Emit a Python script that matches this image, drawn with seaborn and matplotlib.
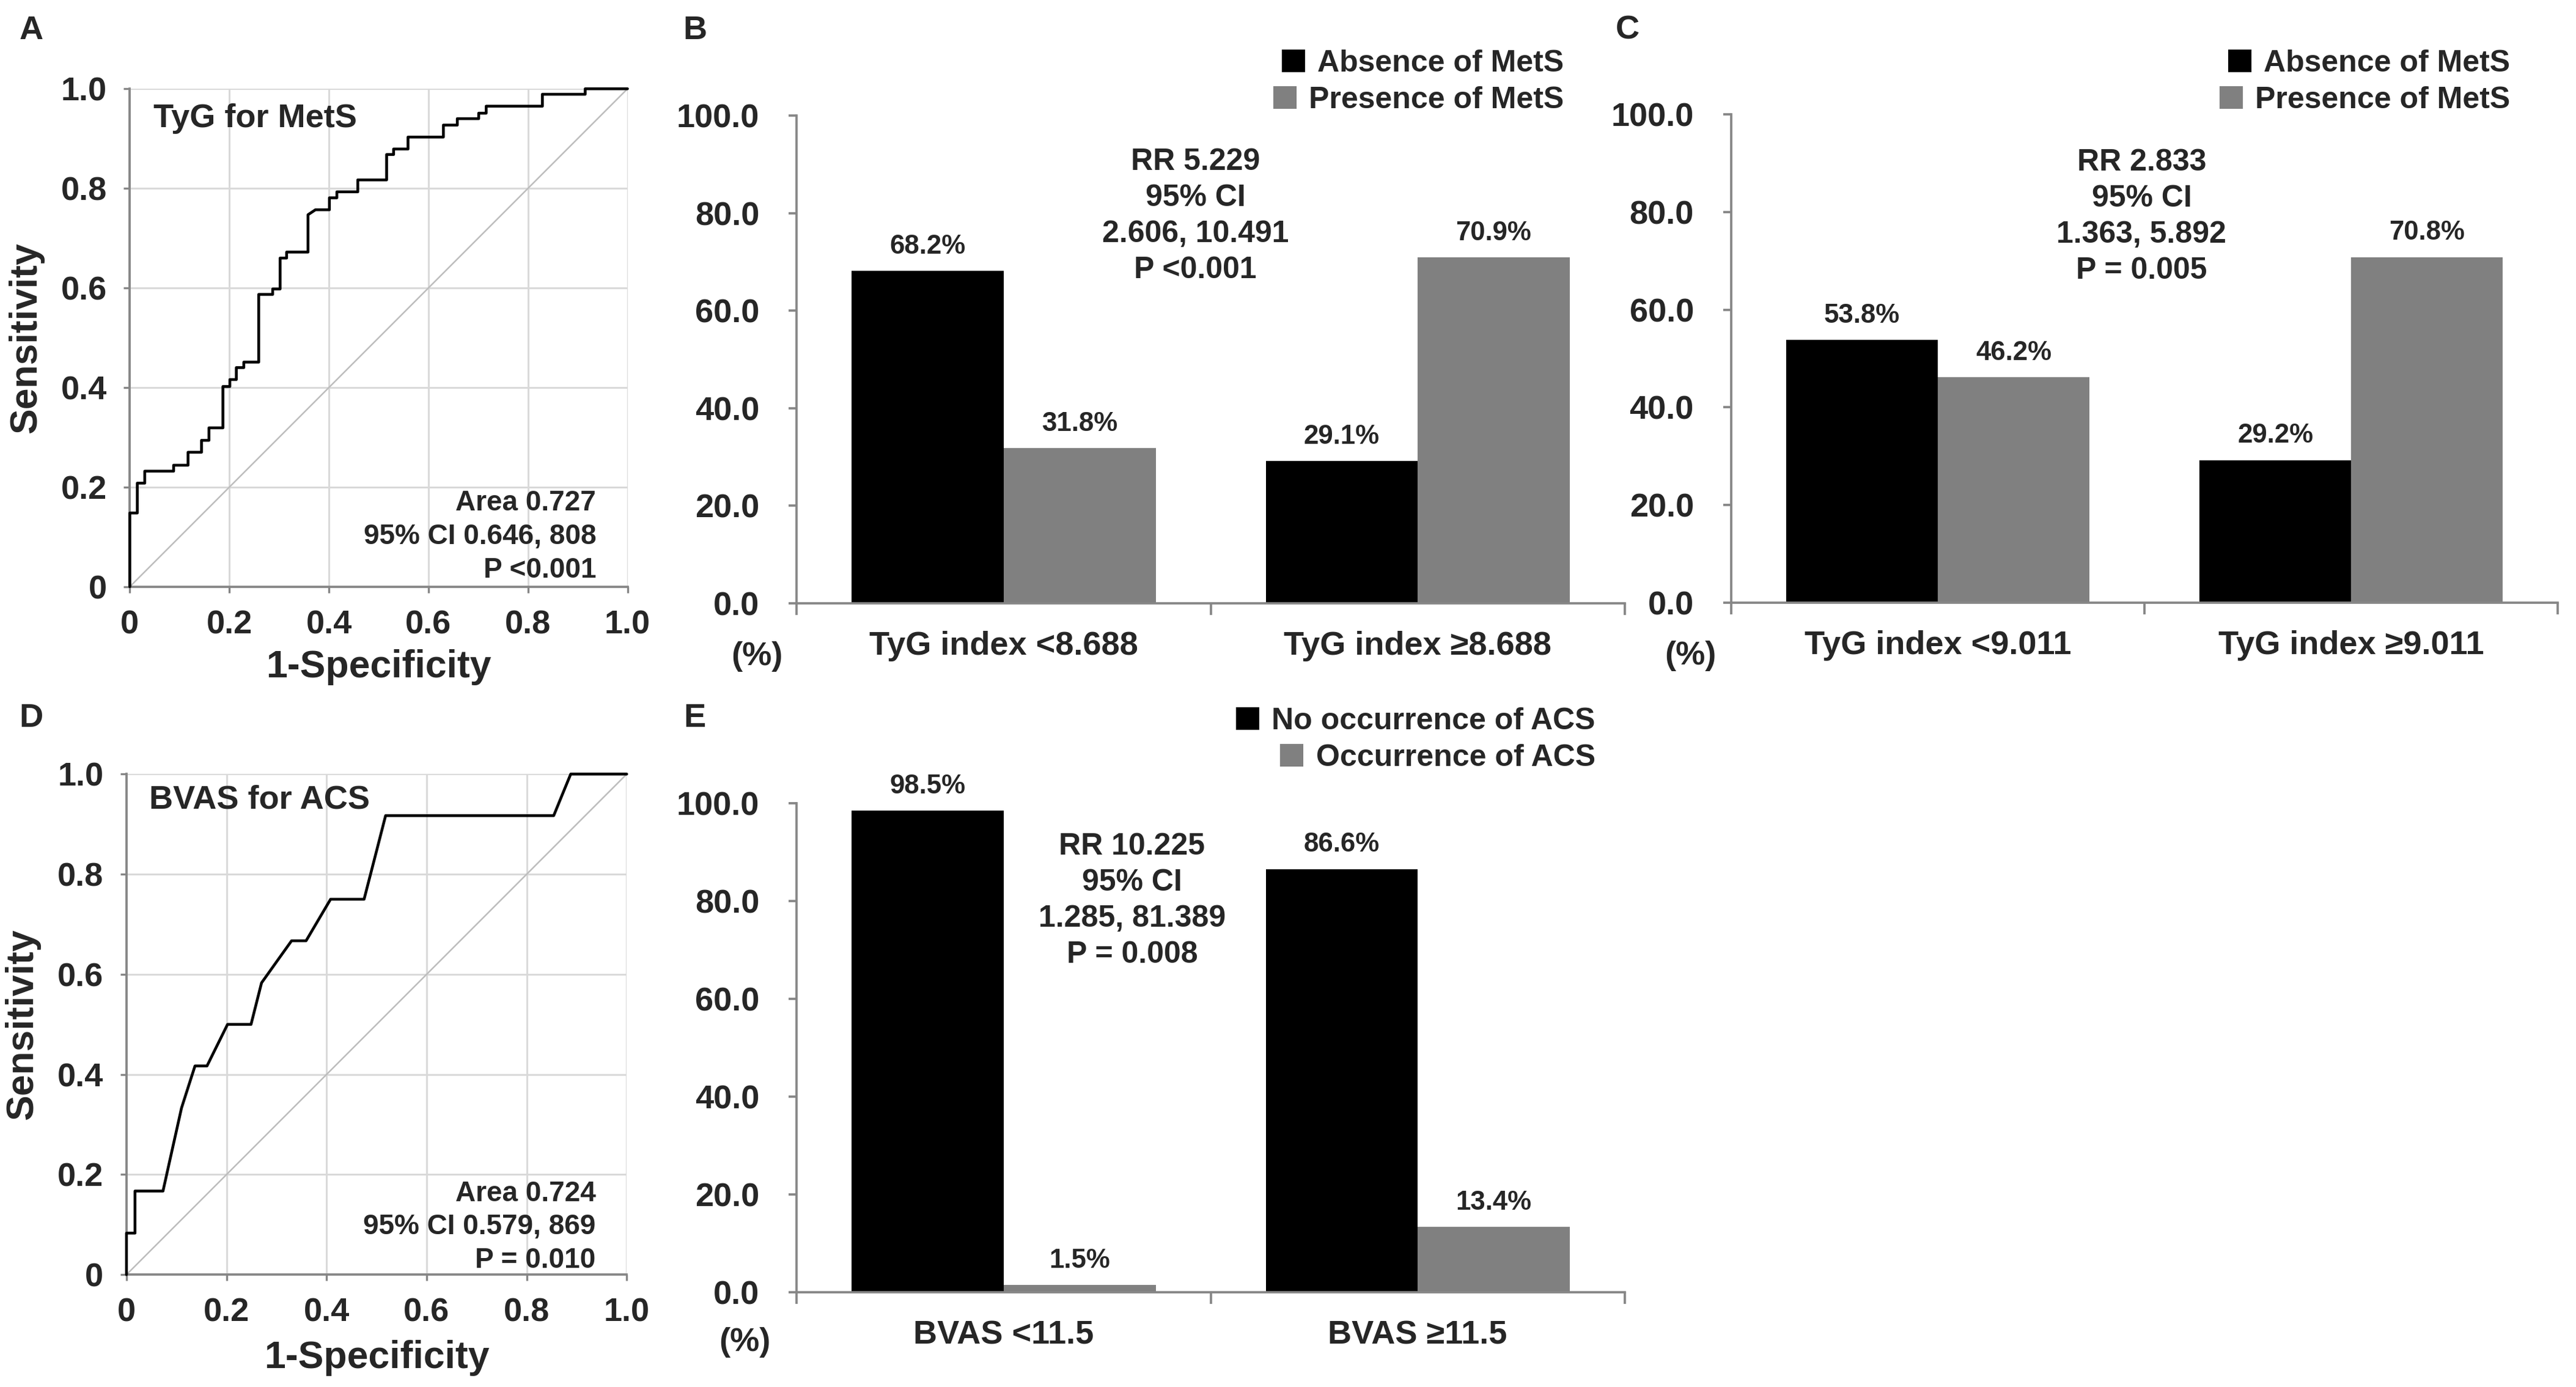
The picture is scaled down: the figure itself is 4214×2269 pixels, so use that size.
import matplotlib
matplotlib.use("Agg")
import matplotlib.pyplot as plt
import seaborn as sns
import pandas as pd
from matplotlib.patches import Patch

# ---------------- data ----------------
roc_ticks = [0, 0.2, 0.4, 0.6, 0.8, 1.0]
roc_tick_labels = ["0", "0.2", "0.4", "0.6", "0.8", "1.0"]

roc_a_fpr = [0, 0, 0.015, 0.015, 0.030, 0.030, 0.088, 0.088, 0.117, 0.117, 0.144, 0.144,
             0.159, 0.159, 0.187, 0.187, 0.201, 0.201, 0.214, 0.214, 0.229, 0.229, 0.259,
             0.259, 0.287, 0.287, 0.302, 0.302, 0.315, 0.315, 0.358, 0.358, 0.373, 0.401,
             0.401, 0.416, 0.416, 0.458, 0.458, 0.516, 0.516, 0.530, 0.530, 0.559, 0.559,
             0.630, 0.630, 0.658, 0.658, 0.701, 0.701, 0.716, 0.716, 0.829, 0.829, 0.915,
             0.915, 1.0]
roc_a_tpr = [0, 0.148, 0.148, 0.208, 0.208, 0.232, 0.232, 0.244, 0.244, 0.270, 0.270, 0.294,
             0.294, 0.319, 0.319, 0.402, 0.402, 0.416, 0.416, 0.440, 0.440, 0.451, 0.451,
             0.587, 0.587, 0.598, 0.598, 0.660, 0.660, 0.672, 0.672, 0.747, 0.757, 0.757,
             0.781, 0.781, 0.793, 0.793, 0.817, 0.817, 0.868, 0.868, 0.879, 0.879, 0.903,
             0.903, 0.927, 0.927, 0.940, 0.940, 0.951, 0.951, 0.965, 0.965, 0.989, 0.989,
             1.0, 1.0]

roc_d_fpr = [0, 0, 0.017, 0.017, 0.073, 0.110, 0.137, 0.161, 0.202, 0.249, 0.270, 0.330,
             0.359, 0.408, 0.475, 0.518, 0.854, 0.888, 1.0]
roc_d_tpr = [0, 0.083, 0.083, 0.167, 0.167, 0.333, 0.417, 0.417, 0.500, 0.500, 0.583, 0.667,
             0.667, 0.750, 0.750, 0.917, 0.917, 1.0, 1.0]

roc_a_title = "TyG for MetS"
roc_a_stats = "Area 0.727\n95% CI 0.646, 808\nP <0.001"
roc_d_title = "BVAS for ACS"
roc_d_stats = "Area 0.724\n95% CI 0.579, 869\nP = 0.010"

b_categories = ["TyG index <8.688", "TyG index \u22658.688"]
b_absence = [68.2, 29.1]
b_presence = [31.8, 70.9]
b_series = ["Absence of MetS", "Presence of MetS"]
b_stats = "RR 5.229\n95% CI\n2.606, 10.491\nP <0.001"

c_categories = ["TyG index <9.011", "TyG index \u22659.011"]
c_absence = [53.8, 29.2]
c_presence = [46.2, 70.8]
c_series = ["Absence of MetS", "Presence of MetS"]
c_stats = "RR 2.833\n95% CI\n1.363, 5.892\nP = 0.005"

e_categories = ["BVAS <11.5", "BVAS \u226511.5"]
e_no_acs = [98.5, 86.6]
e_acs = [1.5, 13.4]
e_series = ["No occurrence of ACS", "Occurrence of ACS"]
e_stats = "RR 10.225\n95% CI\n1.285, 81.389\nP = 0.008"

bar_yticks = [0, 20, 40, 60, 80, 100]

# ---------------- style ----------------
sns.set_style("white")
plt.rcParams["font.family"] = ["Liberation Sans", "DejaVu Sans"]
plt.rcParams["font.weight"] = "bold"
plt.rcParams["axes.labelweight"] = "bold"

BLACK = "#000000"
GRAY = "#808080"
AXGRAY = "#868686"

fig = plt.figure(figsize=(4214 / 300, 2269 / 300), dpi=300)


def roc_panel(rect, fpr, tpr, title, stats, title_xy, stats_xy, xlab_y):
    ax = fig.add_axes(rect)
    sns.lineplot(x=[0, 1], y=[0, 1], color="#bdbdbd", lw=0.6, ax=ax)
    sns.lineplot(x=fpr, y=tpr, sort=False, estimator=None, color="black", lw=1.1,
                 ax=ax, clip_on=False, zorder=5)
    ax.set_xlim(0, 1)
    ax.set_ylim(0, 1)
    ax.set_xticks(roc_ticks)
    ax.set_xticklabels(roc_tick_labels)
    ax.set_yticks(roc_ticks)
    ax.set_yticklabels(roc_tick_labels)
    ax.grid(True, color="#d9d9d9", lw=0.7)
    ax.set_axisbelow(True)
    for s in ["top", "right"]:
        ax.spines[s].set_visible(False)
    for s in ["left", "bottom"]:
        ax.spines[s].set_color(AXGRAY)
        ax.spines[s].set_linewidth(0.9)
    ax.tick_params(axis="both", direction="out", length=2.5, width=0.8, color=AXGRAY,
                   labelsize=13, pad=6.5, left=True, bottom=True)
    ax.set_xlabel("1-Specificity", fontsize=15)
    ax.set_ylabel("Sensitivity", fontsize=15)
    ax.xaxis.set_label_coords(0.5, xlab_y)
    ax.yaxis.set_label_coords(-0.172, 0.5)
    ax.text(title_xy[0], title_xy[1], title, ha="left", va="center", fontsize=13)
    ax.text(stats_xy[0], stats_xy[1], stats, ha="right", va="center", fontsize=11,
            multialignment="right", linespacing=1.32)
    return ax


def bar_panel(rect, cats, s1, s2, names, stats, stats_xy, pct_xy):
    ax = fig.add_axes(rect)
    df = pd.DataFrame({
        "group": cats + cats,
        "pct": s1 + s2,
        "series": [names[0]] * len(cats) + [names[1]] * len(cats),
    })
    sns.barplot(data=df, x="group", y="pct", hue="series", hue_order=names, order=cats,
                palette=[BLACK, GRAY], width=0.734, gap=0, saturation=1, legend=False,
                errorbar=None, linewidth=0, ax=ax)
    for cont in ax.containers:
        for bar in cont:
            h = bar.get_height()
            ax.annotate(f"{h:.1f}%", (bar.get_x() + bar.get_width() / 2, h),
                        xytext=(0, 9.5), textcoords="offset points",
                        ha="center", va="center", fontsize=10.5)
    ax.set_xlim(-0.5, 1.5)
    ax.set_ylim(0, 100)
    ax.set_yticks(bar_yticks)
    ax.set_yticklabels([f"{v:.1f}" for v in bar_yticks])
    ax.set_xticks([-0.5, 0.5, 1.5], minor=True)
    ax.set_xlabel("")
    ax.set_ylabel("")
    for s in ["top", "right"]:
        ax.spines[s].set_visible(False)
    for s in ["left", "bottom"]:
        ax.spines[s].set_color(AXGRAY)
        ax.spines[s].set_linewidth(0.9)
    ax.tick_params(axis="x", which="major", length=0, pad=11, labelsize=13)
    ax.tick_params(axis="x", which="minor", length=4.6, width=0.9, color=AXGRAY,
                   direction="out", bottom=True)
    ax.tick_params(axis="y", length=3.2, width=0.9, color=AXGRAY, direction="out",
                   pad=11.5, labelsize=13, left=True)
    ax.text(stats_xy[0], stats_xy[1], stats, ha="center", va="center", fontsize=12,
            multialignment="center", linespacing=1.36)
    ax.text(pct_xy[0], pct_xy[1], "(%)", transform=ax.transAxes, ha="center",
            va="center", fontsize=13)
    return ax


def legend_row(label, color, x, y):
    fig.legend(handles=[Patch(facecolor=color, edgecolor="none", label=label)],
               loc="center right", bbox_to_anchor=(x, y), bbox_transform=fig.transFigure,
               frameon=False, fontsize=12, handlelength=0.76, handleheight=0.76,
               handletextpad=0.41, borderpad=0, borderaxespad=0)


# ROC panels
roc_panel([0.0504, 0.5770, 0.1932, 0.3590], roc_a_fpr, roc_a_tpr, roc_a_title,
          roc_a_stats, (0.047, 0.94), (0.937, 0.100), -0.125)
roc_panel([0.0491, 0.0810, 0.1942, 0.3609], roc_d_fpr, roc_d_tpr, roc_d_title,
          roc_d_stats, (0.045, 0.948), (0.938, 0.095), -0.13)

# bar panels
bar_panel([0.3093, 0.5652, 0.3214, 0.3515], b_categories, b_absence, b_presence,
          b_series, b_stats, (0.463, 79.4), (-0.048, -0.11))
bar_panel([0.6721, 0.5656, 0.3208, 0.3518], c_categories, c_absence, c_presence,
          c_series, c_stats, (0.493, 79.1), (-0.0495, -0.11))
bar_panel([0.3093, 0.0684, 0.3214, 0.3523], e_categories, e_no_acs, e_acs,
          e_series, e_stats, (0.310, 80.1), (-0.0625, -0.103))

# legends (right-aligned rows)
legend_row(b_series[0], BLACK, 0.6071, 0.9543)
legend_row(b_series[1], GRAY, 0.6071, 0.9277)
legend_row(c_series[0], BLACK, 0.9745, 0.9543)
legend_row(c_series[1], GRAY, 0.9745, 0.9277)
legend_row(e_series[0], BLACK, 0.6193, 0.4799)
legend_row(e_series[1], GRAY, 0.6193, 0.4534)

# panel letters
for letter, x, y in [("A", 0.0121, 0.978), ("B", 0.2698, 0.978), ("C", 0.6318, 0.978),
                     ("D", 0.0121, 0.482), ("E", 0.2698, 0.482)]:
    fig.text(x, y, letter, ha="center", va="center", fontsize=13, fontweight="bold")

fig.savefig("out.png", dpi=300, facecolor="white")
